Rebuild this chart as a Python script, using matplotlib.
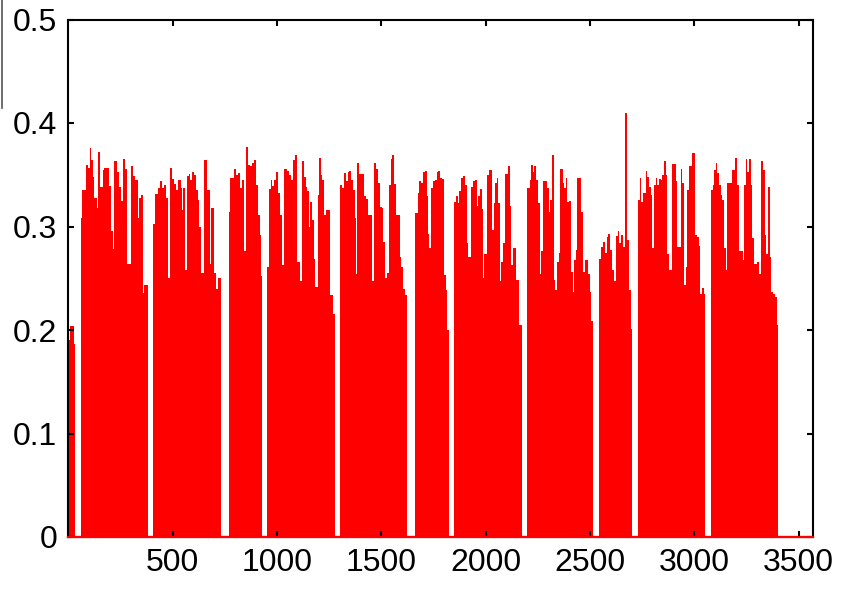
import matplotlib
matplotlib.use("Agg")
import matplotlib.pyplot as plt
from matplotlib.lines import Line2D

# Step-segment data: each segment starts at seg_start[i] and has height seg_height[i]
seg_start = [
    3, 10, 27, 32,
    59, 64, 84, 94, 102, 108, 116, 124, 136, 143, 153, 164, 172, 196, 204, 212, 220, 233, 241, 252, 262, 273, 281, 300, 310, 319, 332, 340, 348, 356, 364, 383,
    407, 415, 431, 441, 447, 457, 468, 476, 485, 495, 505, 516, 527, 540, 546, 550, 560, 568, 578, 584, 592, 602, 610, 619, 628, 635, 650, 664, 679, 685, 696, 706, 715, 730,
    768, 774, 794, 802, 811, 824, 834, 842, 850, 861, 869, 878, 891, 901, 909, 917, 925, 928,
    953, 960, 969, 977, 985, 993, 1003, 1012, 1022, 1035, 1048, 1059, 1068, 1076, 1088, 1096, 1110, 1119, 1129, 1137, 1145, 1152, 1156, 1167, 1175, 1183, 1195, 1199, 1209, 1217, 1227, 1235, 1252, 1268, 1278,
    1303, 1311, 1322, 1330, 1340, 1346, 1356, 1364, 1372, 1378, 1383, 1394, 1418, 1428, 1437, 1455, 1463, 1473, 1482, 1492, 1501, 1509, 1517, 1525, 1537, 1546, 1553, 1560, 1568, 1588, 1596, 1605, 1613, 1623,
    1663, 1674, 1682, 1690, 1699, 1707, 1717, 1723, 1730, 1738, 1747, 1757, 1767, 1773, 1783, 1789, 1798, 1802, 1808, 1814, 1826,
    1850, 1858, 1866, 1874, 1883, 1890, 1902, 1909, 1917, 1929, 1937, 1947, 1957, 1965, 1973, 1981, 1985, 1992, 2008, 2016, 2030, 2038, 2046, 2054, 2060, 2068, 2075, 2083, 2091, 2105, 2115, 2123, 2131, 2145, 2161, 2172,
    2198, 2211, 2217, 2225, 2231, 2241, 2249, 2259, 2267, 2276, 2295, 2303, 2310, 2318, 2327, 2334, 2342, 2350, 2356, 2370, 2377, 2385, 2391, 2398, 2407, 2417, 2423, 2433, 2439, 2457, 2466, 2474, 2492, 2500, 2506, 2514,
    2544, 2554, 2562, 2570, 2580, 2586, 2597, 2605, 2615, 2624, 2632, 2640, 2648, 2658, 2667, 2679, 2687, 2696, 2702,
    2731, 2739, 2746, 2754, 2767, 2775, 2783, 2791, 2799, 2807, 2815, 2823, 2831, 2839, 2846, 2854, 2862, 2870, 2878, 2894, 2910, 2918, 2934, 2942, 2950, 2958, 2966, 2974, 2990, 3001, 3011, 3021, 3029, 3037, 3046, 3053,
    3080, 3088, 3096, 3102, 3108, 3116, 3126, 3134, 3142, 3150, 3158, 3182, 3196, 3204, 3212, 3231, 3238, 3246, 3254, 3262, 3270, 3276, 3284, 3302, 3310, 3319, 3329, 3337, 3345, 3353, 3361, 3369, 3377, 3386, 3394,
]
seg_height = [
    0.190, 0.204, 0.186, 0,
    0.308, 0.335, 0.359, 0.357, 0.376, 0.364, 0.348, 0.328, 0.318, 0.372, 0.338, 0.355, 0.357, 0.339, 0.296, 0.278, 0.363, 0.353, 0.338, 0.325, 0.365, 0.356, 0.264, 0.358, 0.349, 0.345, 0.308, 0.328, 0.330, 0.236, 0.243, 0,
    0.302, 0.331, 0.337, 0.344, 0.337, 0.340, 0.328, 0.250, 0.357, 0.346, 0.341, 0.335, 0.345, 0.337, 0.316, 0.337, 0.258, 0.349, 0.351, 0.345, 0.353, 0.350, 0.335, 0.326, 0.300, 0.255, 0.364, 0.335, 0.264, 0.318, 0.255, 0.240, 0.250, 0,
    0.314, 0.347, 0.356, 0.350, 0.352, 0.337, 0.345, 0.276, 0.377, 0.359, 0.358, 0.361, 0.364, 0.340, 0.311, 0.292, 0.252, 0,
    0.261, 0.336, 0.345, 0.339, 0.345, 0.353, 0.332, 0.311, 0.263, 0.356, 0.354, 0.350, 0.345, 0.364, 0.369, 0.266, 0.247, 0.363, 0.348, 0.338, 0.334, 0.300, 0.324, 0.306, 0.269, 0.242, 0.330, 0.366, 0.350, 0.345, 0.311, 0.316, 0.234, 0.215, 0,
    0.340, 0.337, 0.352, 0.344, 0.353, 0.354, 0.345, 0.335, 0.308, 0.254, 0.361, 0.351, 0.329, 0.327, 0.311, 0.247, 0.361, 0.356, 0.342, 0.319, 0.318, 0.285, 0.250, 0.255, 0.340, 0.365, 0.369, 0.341, 0.311, 0.271, 0.261, 0.240, 0.234, 0,
    0.313, 0.332, 0.344, 0.342, 0.353, 0.354, 0.329, 0.293, 0.279, 0.337, 0.344, 0.345, 0.353, 0.354, 0.347, 0.346, 0.305, 0.253, 0.239, 0.200, 0,
    0.324, 0.329, 0.323, 0.334, 0.347, 0.349, 0.340, 0.284, 0.271, 0.338, 0.344, 0.345, 0.320, 0.329, 0.336, 0.317, 0.250, 0.273, 0.350, 0.355, 0.297, 0.323, 0.342, 0.347, 0.323, 0.247, 0.266, 0.284, 0.351, 0.358, 0.320, 0.263, 0.279, 0.248, 0.205, 0,
    0.337, 0.345, 0.359, 0.353, 0.358, 0.345, 0.323, 0.254, 0.276, 0.344, 0.337, 0.314, 0.326, 0.369, 0.248, 0.239, 0.266, 0.274, 0.356, 0.342, 0.337, 0.347, 0.324, 0.325, 0.256, 0.237, 0.268, 0.277, 0.347, 0.314, 0.256, 0.268, 0.254, 0.237, 0.209, 0,
    0.269, 0.280, 0.285, 0.274, 0.290, 0.293, 0.277, 0.258, 0.247, 0.291, 0.296, 0.284, 0.292, 0.280, 0.410, 0.287, 0.239, 0.201, 0,
    0.326, 0.347, 0.324, 0.332, 0.354, 0.348, 0.338, 0.330, 0.279, 0.340, 0.347, 0.340, 0.346, 0.345, 0.350, 0.363, 0.350, 0.273, 0.258, 0.360, 0.344, 0.280, 0.356, 0.342, 0.243, 0.261, 0.335, 0.358, 0.371, 0.292, 0.290, 0.281, 0.235, 0.241, 0.235, 0,
    0.335, 0.340, 0.355, 0.361, 0.352, 0.340, 0.330, 0.326, 0.279, 0.258, 0.342, 0.355, 0.366, 0.340, 0.276, 0.268, 0.340, 0.365, 0.353, 0.365, 0.340, 0.289, 0.264, 0.266, 0.254, 0.363, 0.355, 0.292, 0.273, 0.338, 0.271, 0.237, 0.235, 0.232, 0.205,
]
data_end = 3402
x_max = 3567
x_ticks = [500, 1000, 1500, 2000, 2500, 3000, 3500]
y_ticks = [0, 0.1, 0.2, 0.3, 0.4, 0.5]
y_labels = ["0", "0.1", "0.2", "0.3", "0.4", "0.5"]

plt.rcParams['font.family'] = ['Liberation Sans', 'DejaVu Sans']

fig = plt.figure(figsize=(8.61, 5.90), dpi=100)
ax = fig.add_axes([68.4 / 861, 53 / 590, (812.7 - 68.4) / 861, (537 - 19.5) / 590])

edges = seg_start + [data_end]
ax.stairs(seg_height, edges, fill=True, color='#ff0000', linewidth=0)
ax.axhline(0, color='#ff0000', linewidth=1.6, zorder=3, clip_on=False)

ax.set_xlim(0, x_max)
ax.set_ylim(0, 0.5)
ax.set_xticks(x_ticks)
ax.set_xticklabels([str(t) for t in x_ticks])
ax.set_yticks(y_ticks)
ax.set_yticklabels(y_labels)

for s in ax.spines.values():
    s.set_linewidth(1.5)
    s.set_color('black')
ax.tick_params(direction='in', length=4.5, width=1.5, top=True, right=True,
               labelsize=23, colors='black')
ax.tick_params(axis='x', pad=8)
ax.tick_params(axis='y', pad=8)

# thin gray line at the very left top of the figure
fig.add_artist(Line2D([1.5 / 861, 1.5 / 861], [1.0, 1 - 108 / 590],
                      transform=fig.transFigure, color='#555555', linewidth=1.2))

fig.savefig('out.png', dpi=100)
